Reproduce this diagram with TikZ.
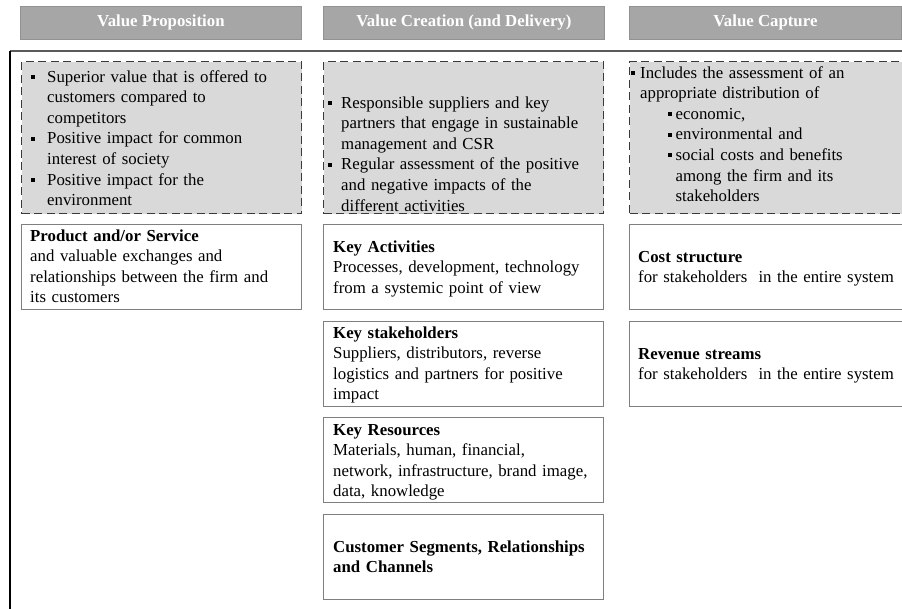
\documentclass[tikz,border=0pt]{standalone}
\usepackage{fontspec}
\setmainfont{Liberation Serif}
\definecolor{hdrfill}{HTML}{A6A6A6}
\definecolor{hdrline}{HTML}{929292}
\definecolor{dashfill}{HTML}{D9D9D9}
\definecolor{dashline}{HTML}{3A3A3A}
\definecolor{boxline}{HTML}{7F7F7F}
\definecolor{frametop}{HTML}{5A5A5A}
\newcommand\sqbul{\raisebox{3.3pt}{\rule{4pt}{4pt}}}
\begin{document}
\begin{tikzpicture}[x=1pt,y=-1pt,
  hdr/.style={draw=hdrline, fill=hdrfill, line width=0.8pt, minimum height=33pt,
    anchor=north west, inner sep=0pt, text=white, font=\fontsize{16.8}{20}\selectfont\bfseries},
  dbox/.style={draw=dashline, fill=dashfill, dash pattern=on 8pt off 4.5pt,
    line width=1.2pt, anchor=north west, inner sep=0pt, minimum height=152pt},
  pbox/.style={draw=boxline, line width=1.2pt, anchor=north west, inner sep=0pt,
    minimum height=85pt},
  txt/.style={anchor=base west, inner sep=0pt, align=left, text width=300pt,
    font=\fontsize{16.8}{20.6}\selectfont},
]
\fill[white] (0,0) rectangle (902,608);
\useasboundingbox (0,0) rectangle (902,608);

% headers
\node[hdr, minimum width=281pt] (h1) at (20,6) {Value Proposition};
\node[hdr, minimum width=281pt] (h2) at (323,6) {Value Creation (and Delivery)};
\node[hdr, minimum width=272pt] (h3) at (629,6) {Value Capture};

% frame
\coordinate (ftl) at (10,51);
\coordinate (ftr) at (910,51);
\coordinate (fbl) at (10,612);
\draw[frametop, line width=2pt] (ftl) -- (ftr);
\draw[black, line width=2pt] (ftl) -- (fbl);

% dashed boxes
\node[dbox, minimum width=280pt] (d1) at (21,61) {};
\node[dbox, minimum width=280pt] (d2) at (323,61) {};
\node[dbox, minimum width=290pt] (d3) at (629,61) {};

% plain boxes
\node[pbox, minimum width=280pt] (p1) at (21,224) {};
\node[pbox, minimum width=280pt] (ka) at (323,224) {};
\node[pbox, minimum width=280pt] (ks) at (323,321) {};
\node[pbox, minimum width=280pt] (kr) at (323,417) {};
\node[pbox, minimum width=280pt] (cs) at (323,514) {};
\node[pbox, minimum width=290pt] (cost) at (629,224) {};
\node[pbox, minimum width=290pt] (rev) at (629,321) {};

% texts
\node[txt] (t1) at (31,82) {%
\makebox[16pt][l]{\sqbul}Superior value that is offered to\\
\hspace*{16pt}customers compared to\\
\hspace*{16pt}competitors\\
\makebox[16pt][l]{\sqbul}Positive impact for common\\
\hspace*{16pt}interest of society\\
\makebox[16pt][l]{\sqbul}Positive impact for the\\
\hspace*{16pt}environment};

\node[txt] (t2) at (328,108) {%
\makebox[13pt][l]{\sqbul}Responsible suppliers and key\\
\hspace*{13pt}partners that engage in sustainable\\
\hspace*{13pt}management and CSR\\
\makebox[13pt][l]{\sqbul}Regular assessment of the positive\\
\hspace*{13pt}and negative impacts of the\\
\hspace*{13pt}different activities};

\node[txt] (t3) at (631,78) {%
\makebox[9pt][l]{\sqbul}Includes the assessment of an\\
\hspace*{9pt}appropriate distribution of\\
\hspace*{37pt}\makebox[7.5pt][l]{\sqbul}economic,\\
\hspace*{37pt}\makebox[7.5pt][l]{\sqbul}environmental and\\
\hspace*{37pt}\makebox[7.5pt][l]{\sqbul}social costs and benefits\\
\hspace*{44.5pt}among the firm and its\\
\hspace*{44.5pt}stakeholders};

\node[txt] (tp) at (30,241) {\textbf{Product and/or Service}\\
and valuable exchanges and\\
relationships between the firm and\\
its customers};

\node[txt] (tka) at (333,252) {\textbf{Key Activities}\\
Processes, development, technology\\
from a systemic point of view};

\node[txt] (tks) at (333,338) {\textbf{Key stakeholders}\\
Suppliers, distributors, reverse\\
logistics and partners for positive\\
impact};

\node[txt] (tkr) at (333,435) {\textbf{Key Resources}\\
Materials, human, financial,\\
network, infrastructure, brand image,\\
data, knowledge};

\node[txt] (tcs) at (333,552) {\textbf{Customer Segments, Relationships}\\
\textbf{and Channels}};

\node[txt] (tcost) at (638,262) {\textbf{Cost structure}\\
for stakeholders\ \ in the entire system};

\node[txt] (trev) at (638,359) {\textbf{Revenue streams}\\
for stakeholders\ \ in the entire system};
\end{tikzpicture}
\end{document}
